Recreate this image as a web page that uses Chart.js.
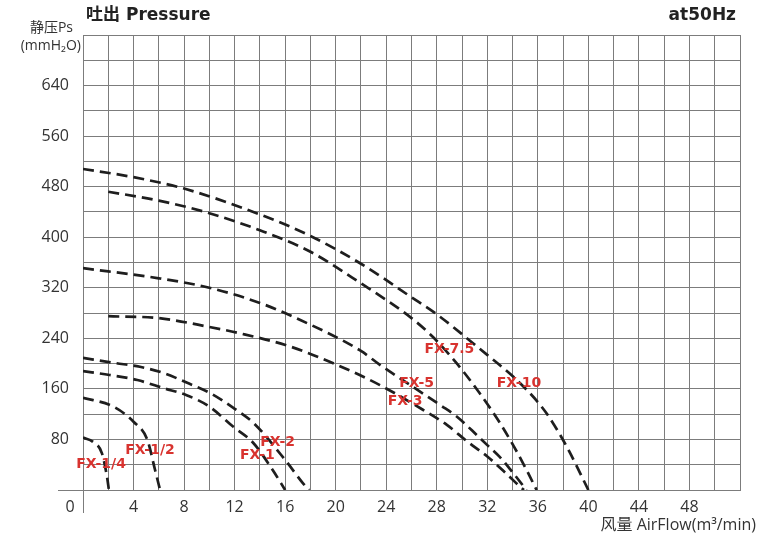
<!DOCTYPE html>
<html>
<head>
<meta charset="utf-8">
<script src="https://cdn.jsdelivr.net/npm/chart.js@4/dist/chart.umd.min.js"></script>
<style>
    body { margin: 0; background: #fff; }
    #box { width: 771px; height: 535px; position: relative; }
</style>
</head>
<body>
<div id="box"><canvas id="fanChart"></canvas></div>
<script>
// curve data (airflow m3/min, pressure mmH2O)
const fx_names = ['FX-1/4', 'FX-1/2', 'FX-1', 'FX-2', 'FX-3', 'FX-5', 'FX-7.5', 'FX-10'];
const fx_flow = [
    [0, 0.8, 1.5, 1.9, 2.05],
    [0, 2.4, 4.0, 5.1, 5.7, 6.1],
    [0, 2.1, 4.3, 6.4, 8.2, 10, 11.9, 13.5, 15, 16],
    [0, 2.5, 4.5, 6.4, 8.2, 10.1, 11.9, 13.5, 16.1, 17.4, 17.9],
    [2, 6, 10, 12.4, 16.4, 20.1, 23.5, 26.9, 28.8, 30.4, 32, 33.5, 34.6, 34.9],
    [0, 6, 10, 14, 17.2, 22, 23.5, 25, 28.3, 29.6, 30.8, 32, 33, 33.8, 35.1],
    [2, 6, 10, 14, 18, 22, 26, 27.7, 29.6, 31.4, 33, 34.1, 35.1, 35.9],
    [0, 4, 8, 14, 18, 22, 26, 28, 31, 34.9, 36.7, 38.3, 40]
];
const fx_pressure = [
    [83, 76, 58, 21, 0],
    [146, 132, 108, 79, 32, 0],
    [188, 182, 174, 161, 150, 132, 100, 74, 32, 0],
    [209, 201, 195, 185, 170, 153, 130, 106, 45, 11, 0],
    [275, 272, 258, 248, 227, 198, 166, 127, 103, 77, 53, 26, 5, 0],
    [351, 335, 320, 296, 269, 220, 198, 178, 134, 116, 94, 71, 52, 33, 0],
    [472, 458, 438, 411, 377, 327, 272, 242, 200, 153, 106, 69, 32, 0],
    [508, 495, 477, 436, 402, 358, 305, 278, 230, 163, 121, 68, 0]
];
// where each model name sits
const label_flow = [1.43, 5.3, 13.8, 15.4, 25.5, 26.4, 29.0, 34.5];
const label_pressure = [40, 63, 55, 76, 141, 168, 222, 169];

const x_ticks_shown = [4, 8, 12, 16, 20, 24, 28, 32, 36, 40, 44, 48];
const y_ticks_shown = [80, 160, 240, 320, 400, 480, 560, 640];

const font_main = "'Open Sans', 'Noto Sans CJK SC', sans-serif";
const font_bold = "'DejaVu Sans', 'Noto Sans CJK SC', sans-serif";
const grid_color = '#7c7c7c';

let datasets = [];
for (let i = 0; i < fx_names.length; i++) {
    let pts = [];
    for (let j = 0; j < fx_flow[i].length; j++) {
        pts.push({ x: fx_flow[i][j], y: fx_pressure[i][j] });
    }
    datasets.push({
        label: fx_names[i],
        data: pts,
        borderColor: '#1e1e1e',
        borderWidth: 2.7,
        borderDash: [11, 6],
        pointRadius: 0,
        cubicInterpolationMode: 'monotone',
        fill: false
    });
}

const textPlugin = {
    id: 'textPlugin',
    beforeDatasetsDraw(chart) {
        const ctx = chart.ctx;
        const xs = chart.scales.x;
        const ys = chart.scales.y;
        const x0 = xs.getPixelForValue(0);
        const y0 = ys.getPixelForValue(0);
        ctx.save();
        ctx.strokeStyle = grid_color;
        ctx.lineWidth = 1;
        ctx.beginPath();
        ctx.moveTo(x0 - 25, y0 + 0.5);
        ctx.lineTo(x0, y0 + 0.5);
        ctx.moveTo(x0 + 0.5, y0);
        ctx.lineTo(x0 + 0.5, y0 + 23);
        ctx.stroke();
        ctx.restore();
    },
    afterDatasetsDraw(chart) {
        const ctx = chart.ctx;
        const xs = chart.scales.x;
        const ys = chart.scales.y;
        ctx.save();
        ctx.textBaseline = 'middle';

        ctx.fillStyle = '#d8332f';
        ctx.font = 'bold 14px ' + font_bold;
        ctx.textAlign = 'center';
        for (let i = 0; i < fx_names.length; i++) {
            ctx.fillText(fx_names[i], xs.getPixelForValue(label_flow[i]), ys.getPixelForValue(label_pressure[i]));
        }

        ctx.fillStyle = '#222';
        ctx.font = 'bold 17px ' + font_bold;
        ctx.textAlign = 'left';
        ctx.fillText('吐出 Pressure', 86, 16);
        ctx.textAlign = 'right';
        ctx.fillText('at50Hz', 736, 16);

        ctx.fillStyle = '#333';
        ctx.font = '14px ' + font_main;
        ctx.textAlign = 'right';
        ctx.fillText('静压Ps', 73, 28);
        ctx.fillText('(mmH\u2082O)', 81, 46);
        ctx.font = '16px ' + font_main;
        ctx.fillText('风量 AirFlow(m³/min)', 756, 525);

        ctx.textAlign = 'center';
        ctx.fillText('0', 70, 507);
        ctx.restore();
    }
};

const config = {
    type: 'line',
    data: { datasets: datasets },
    options: {
        responsive: true,
        maintainAspectRatio: false,
        animation: false,
        layout: { padding: { left: 0, top: 35, right: 31, bottom: 0 } },
        plugins: {
            legend: { display: false },
            tooltip: { enabled: false }
        },
        scales: {
            x: {
                type: 'linear',
                min: 0,
                max: 52,
                afterFit: (scale) => { scale.height = 45 },
                grid: { color: grid_color, lineWidth: 1, drawTicks: false },
                border: { color: grid_color },
                ticks: {
                    stepSize: 2,
                    padding: 8,
                    color: '#333',
                    font: { family: font_main, size: 16 },
                    maxRotation: 0,
                    autoSkip: false,
                    callback: (v) => x_ticks_shown.includes(v) ? v : ''
                }
            },
            y: {
                type: 'linear',
                min: 0,
                max: 720,
                afterFit: (scale) => { scale.width = 83 },
                grid: { color: grid_color, lineWidth: 1, drawTicks: false },
                border: { color: grid_color },
                ticks: {
                    stepSize: 40,
                    padding: 14,
                    color: '#333',
                    font: { family: font_main, size: 16 },
                    autoSkip: false,
                    callback: (v) => y_ticks_shown.includes(v) ? v : ''
                }
            }
        }
    },
    plugins: [textPlugin]
};

new Chart(document.getElementById('fanChart'), config);
</script>
</body>
</html>
